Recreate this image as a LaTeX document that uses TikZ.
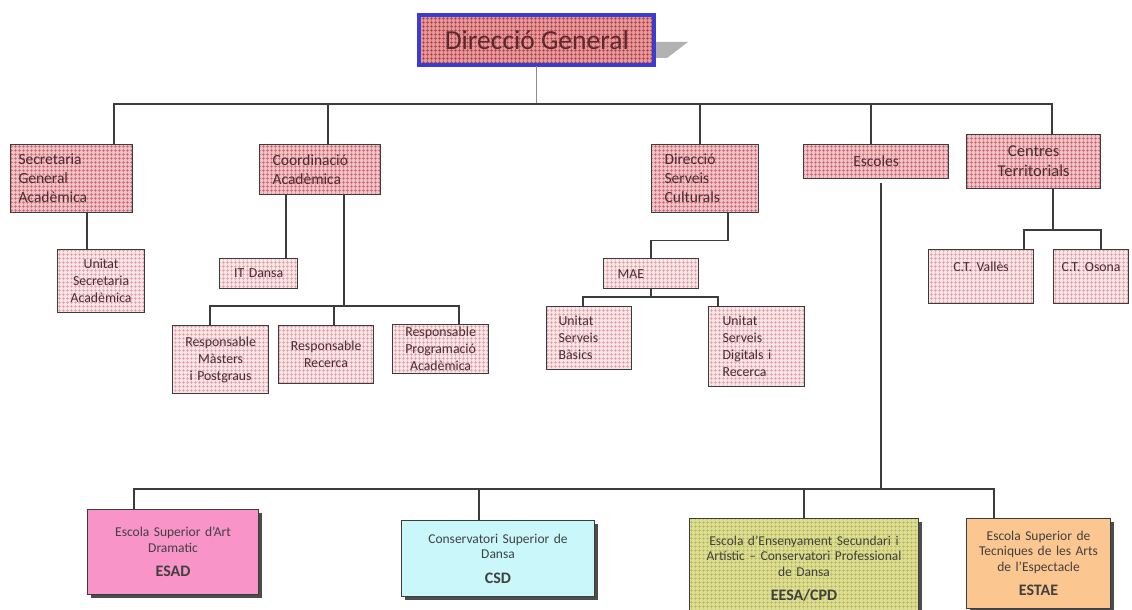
\documentclass[tikz,border=0pt]{standalone}
\usepackage{fontspec}
\setmainfont{Carlito}
\usetikzlibrary{patterns.meta,shadows}

\definecolor{boxpink}{HTML}{F0C2C6}
\definecolor{gridred}{HTML}{C45C66}
\definecolor{lightpink}{HTML}{F9E4E6}
\definecolor{gridlight}{HTML}{DA98A0}
\definecolor{toppink}{HTML}{E6979A}
\definecolor{topgrid}{HTML}{A63A40}
\definecolor{topblue}{HTML}{3C3CD0}
\definecolor{linegray}{HTML}{3C3C3C}
\definecolor{txtbrown}{HTML}{4C2C30}
\definecolor{esadpink}{HTML}{F994C8}
\definecolor{csdcyan}{HTML}{CAF8FA}
\definecolor{eesaolive}{HTML}{DEDE92}
\definecolor{eesagrid}{HTML}{B6B65E}
\definecolor{estaeorange}{HTML}{FBC690}

\newcommand\acrfont{\fontsize{16}{19}\selectfont\bfseries}

\tikzset{
  box/.style={draw=linegray, line width=1.2pt, anchor=north west, inner xsep=8pt,
    inner ysep=0pt, text=txtbrown, font=\fontsize{15.5}{19}\selectfont},
  dept/.style={box, preaction={fill=boxpink},
    pattern={Hatch[angle=0,distance=4pt,line width=0.6pt]}, pattern color=gridred},
  unitbox/.style={box, preaction={fill=lightpink},
    pattern={Hatch[angle=0,distance=4pt,line width=0.6pt]}, pattern color=gridlight,
    font=\fontsize{13.8}{17}\selectfont},
  school/.style={draw=linegray, line width=1pt, anchor=north west, inner xsep=5pt,
    inner ysep=0pt, align=center, text=black!75, font=\fontsize{13.5}{15.5}\selectfont,
    drop shadow={shadow xshift=3pt, shadow yshift=-3pt, fill=black!70, opacity=1}},
  link/.style={draw=linegray, line width=1.3pt},
}

\begin{document}
\begin{tikzpicture}[x=1pt, y=-1pt]
  \useasboundingbox (0,0) rectangle (1132,610);

  % head
  \fill[black!30] (656,42) -- (688,42) -- (667,58) -- (656,58) -- cycle;
  \node[draw=topblue, line width=4pt, anchor=north west, inner sep=0pt,
        minimum width=235pt, minimum height=50pt, text=txtbrown!90!red,
        font=\fontsize{27.5}{30}\selectfont, preaction={fill=toppink},
        pattern={Hatch[angle=0,distance=4pt,line width=0.6pt]}, pattern color=topgrid]
        (dg) at (419,15) {Direcció General};

  % first level
  \node[dept, text width=106pt, align=left, minimum height=68pt]
        (sga) at (10,144) {Secretaria\\General\\Acadèmica};
  \node[dept, inner xsep=13pt, text width=95pt, align=left, minimum height=50pt]
        (coord) at (259,144) {Coordinació\\Acadèmica};
  \node[dept, inner xsep=13pt, text width=81pt, align=left, minimum height=68pt]
        (dsc) at (651,144) {Direcció\\Serveis\\Culturals};
  \node[dept, text width=129pt, align=center, minimum height=34pt]
        (esc) at (803,144) {Escoles};
  \node[dept, text width=118pt, align=center, minimum height=54pt,
        font=\fontsize{16.5}{20}\selectfont]
        (ct) at (966,134) {Centres\\Territorials};

  % second level
  \node[unitbox, inner xsep=3pt, text width=81pt, align=center, minimum height=63pt]
        (usa) at (57,249) {Unitat\\Secretaria\\Acadèmica};
  \node[unitbox, inner xsep=4pt, text width=70pt, align=center, minimum height=30pt]
        (itd) at (219,258) {IT Dansa};
  \node[unitbox, inner xsep=3pt, text width=90pt, align=center, minimum height=68pt]
        (rmp) at (172,325) {Responsable\\Màsters\\i Postgraus};
  \node[unitbox, inner xsep=3pt, text width=89pt, align=center, minimum height=58pt]
        (rr) at (278,325) {Responsable\\Recerca};
  \node[unitbox, inner xsep=3pt, text width=90pt, align=center, minimum height=49pt]
        (rpa) at (392,324) {Responsable\\Programació\\Acadèmica};
  \node[unitbox, inner xsep=14pt, text width=67pt, align=left, minimum height=30pt]
        (mae) at (603,258) {MAE};
  \node[unitbox, inner xsep=12pt, text width=61pt, align=left, minimum height=63pt]
        (usb) at (546,306) {Unitat\\Serveis\\Bàsics};
  \node[unitbox, inner xsep=14pt, text width=68pt, align=left, minimum height=80pt]
        (usd) at (708,306) {Unitat\\Serveis\\Digitals i\\Recerca};
  \node[unitbox, inner xsep=4pt, text width=97pt, align=center,
        text height=22pt, text depth=32pt]
        (ctv) at (928,249) {C.T. Vallès};
  \node[unitbox, inner xsep=4pt, text width=67pt, align=center,
        text height=22pt, text depth=32pt]
        (cto) at (1053,249) {C.T. Osona};

  % schools
  \node[school, text width=161pt, minimum height=85pt, preaction={fill=esadpink}]
        (esad) at (87,509) {Escola Superior d'Art\\Dramatic\\[9pt]{\acrfont ESAD}};
  \node[school, text width=183pt, minimum height=76pt, preaction={fill=csdcyan}]
        (csd) at (401,520) {Conservatori Superior de\\Dansa\\[9pt]{\acrfont CSD}};
  \node[school, text width=219pt, minimum height=100pt, preaction={fill=eesaolive},
        pattern={Hatch[angle=0,distance=4pt,line width=0.6pt]}, pattern color=eesagrid]
        (eesa) at (689,518) {Escola d'Ensenyament Secundari i\\Artístic -- Conservatori Professional\\de Dansa\\[9pt]{\acrfont EESA/CPD}};
  \node[school, text width=134pt, minimum height=90pt, preaction={fill=estaeorange}]
        (estae) at (966,518) {Escola Superior de\\Tecniques de les Arts\\de l'Espectacle\\[9pt]{\acrfont ESTAE}};

  % connectors
  \draw[draw=black!45, line width=1.2pt] (dg.south) -- ++(0,37);
  \draw[link] ([xshift=104pt]sga.north west) -- ++(0,-40) -| ([xshift=86pt]ct.north west);
  \draw[link] ([xshift=69pt]coord.north west) -- ++(0,-40);
  \draw[link] ([xshift=49pt]dsc.north west) -- ++(0,-40);
  \draw[link] ([xshift=68pt]esc.north west) -- ++(0,-40);

  \draw[link] ([xshift=30pt]usa.north west) -- ([xshift=30pt]usa.north west |- sga.south);
  \draw[link] ([xshift=67pt]itd.north west) -- ([xshift=67pt]itd.north west |- coord.south);
  \draw[link] ([xshift=85pt]coord.south west) -- ++(0,112);
  \draw[link] ([xshift=38pt]rmp.north west) -- ++(0,-19) -| ([xshift=67pt]rpa.north west);
  \draw[link] ([xshift=56pt]rr.north west) -- ++(0,-19);

  \draw[link] ([xshift=77pt]dsc.south west) -- ++(0,27) -| ([xshift=48pt]mae.north west);
  \draw[link] ([xshift=48pt]mae.south west) -- ++(0,9);
  \draw[link] ([xshift=37pt]usb.north west) -- ++(0,-9) -| ([xshift=10pt]usd.north west);

  \draw[link] ([xshift=87pt]ct.south west) -- ++(0,42);
  \draw[link] ([xshift=96pt]ctv.north west) -- ++(0,-19) -| ([xshift=48pt]cto.north west);

  \draw[link] ([xshift=78pt,yshift=-4pt]esc.south west) -- ++(0,307);
  \draw[link] ([xshift=47pt]esad.north west) -- ++(0,-20) -| ([xshift=28pt]estae.north west);
  \draw[link] ([xshift=78pt]csd.north west) -- ++(0,-31);
  \draw[link] ([xshift=115pt]eesa.north west) -- ++(0,-29);
\end{tikzpicture}
\end{document}
